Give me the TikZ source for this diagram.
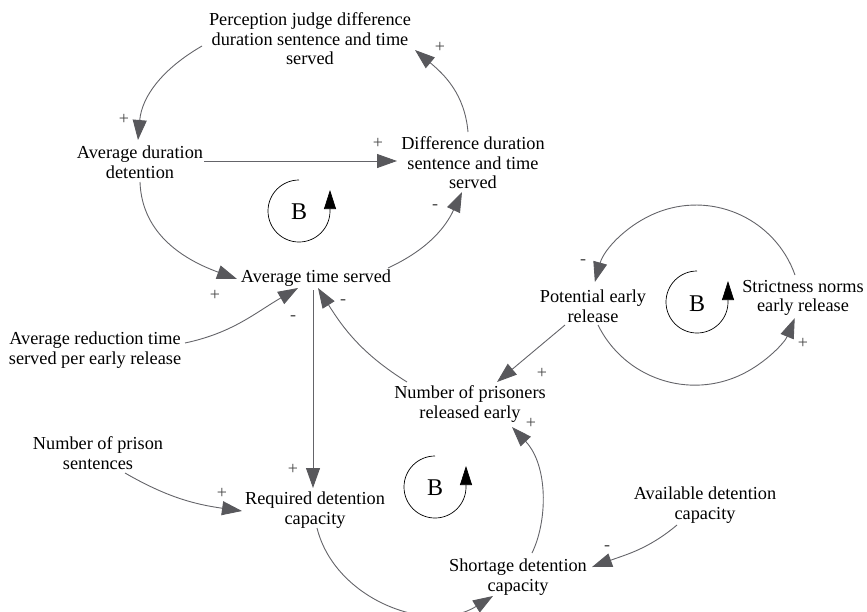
\documentclass[tikz,border=0pt]{standalone}
\usepackage{fontspec}
\setmainfont{Liberation Serif}
\usetikzlibrary{arrows.meta,calc}
\definecolor{conncol}{RGB}{100,100,105}
\definecolor{tipcol}{RGB}{88,88,92}
\definecolor{labcol}{RGB}{70,70,70}
\tikzset{
  var/.style={align=center,inner sep=0pt,font=\fontsize{18.3}{19.5}\selectfont,text=black},
  sign/.style={inner sep=0pt,font=\fontsize{18}{18}\selectfont,text=labcol},
  conn/.style={draw=conncol,line width=0.9pt,-{Triangle[length=20pt,width=14pt,color=tipcol,fill=tipcol]}},
  loopar/.style={draw=black,line width=0.7pt,-{Triangle[length=19pt,width=12pt,fill=black]}},
  loopname/.style={inner sep=0pt,font=\fontsize{24}{24}\selectfont}
}
\begin{document}
\begin{tikzpicture}[x=1pt,y=1pt]
\useasboundingbox (0,0) rectangle (867,-611);
% variables
\node[var] (P) at (310,-39) {Perception judge difference\\duration sentence and time\\served};
\node[var] (ADD) at (140,-162) {Average duration\\detention};
\node[var] (DD) at (473,-163) {Difference duration\\sentence and time\\served};
\node[var] (ATS) at (316,-278) {Average time served};
\node[var] (AR) at (95,-350) {Average reduction time\\served per early release};
\node[var] (NPR) at (470,-404) {Number of prisoners\\released early};
\node[var] (PER) at (593,-306) {Potential early\\release};
\node[var] (SNE) at (803,-298) {Strictness norms\\early release};
\node[var] (NPS) at (98,-453) {Number of prison\\sentences};
\node[var] (RDC) at (315,-510) {Required detention\\capacity};
\node[var] (ADC) at (705,-505) {Available detention\\capacity};
\node[var] (SDC) at (518,-577) {Shortage detention\\capacity};
% loop markers
\node[loopname] (L1) at (299,-212) {B};
\node[loopname] (L2) at (697,-304) {B};
\node[loopname] (L3) at (435,-488) {B};
\draw[loopar] ($(L1)+(0,32)$) arc[start angle=90,end angle=360,radius=31] -- ++(0,21);
\draw[loopar] ($(L2)+(0,33)$) arc[start angle=90,end angle=360,radius=31] -- ++(0,21);
\draw[loopar] ($(L3)+(0,32)$) arc[start angle=90,end angle=360,radius=31] -- ++(0,21);
% connectors
\draw[conn] ($(DD)+(-5,31)$) to[out=95,in=-40] ($(P)+(105,-11)$);
\draw[conn] ($(P)+(-108,-7)$) to[out=210,in=85] ($(ADD)+(-2,22)$);
\draw[conn] ($(ADD)+(64,1)$) -- ($(DD)+(-76,2)$);
\draw[conn] ($(ADD)+(0,-20)$) to[out=-88,in=160] ($(ATS)+(-79,-1)$);
\draw[conn] ($(ATS)+(72,10)$) to[out=25,in=-115] ($(DD)+(-11,-29)$);
\draw[conn] ($(AR)+(90,7)$) to[out=12,in=-150] ($(ATS)+(-18,-10)$);
\draw[conn] ($(ATS)+(-3,-12)$) -- ($(RDC)+(-2,22)$);
\draw[conn] ($(NPR)+(-63,22)$) to[out=148,in=-58] ($(ATS)+(2,-10)$);
\draw[conn] ($(NPS)+(27,-20)$) to[out=-30,in=172] ($(RDC)+(-73,-1)$);
\draw[conn] ($(RDC)+(2,-18)$) .. controls +(18,-72) and +(-63,-39) .. ($(SDC)+(-25,-19)$);
\draw[conn] ($(SDC)+(14,24)$) .. controls +(16,33) and +(36,-38) .. ($(NPR)+(42,-23)$);
\draw[conn] ($(ADC)+(-28,-20)$) to[out=220,in=20] ($(SDC)+(74,10)$);
\draw[conn] ($(PER)+(-28,-19)$) -- ($(NPR)+(27,22)$);
\draw[conn] ($(SNE)+(-8,23)$) arc[start angle=19.5,end angle=164.5,radius=105];
\draw[conn] ($(PER)+(5,-19)$) arc[start angle=206.3,end angle=337.7,radius=108];
% polarity signs
\node[sign] (s1) at (440,-47) {+};
\node[sign] (s2) at (124,-119) {+};
\node[sign] (s3) at (378,-143) {+};
\node[sign] (s4) at (435,-207) {-};
\node[sign] (s5) at (215,-295) {+};
\node[sign] (s6) at (293,-318) {-};
\node[sign] (s7) at (343,-302) {-};
\node[sign] (s8) at (583,-262) {-};
\node[sign] (s9) at (803,-343) {+};
\node[sign] (s10) at (542,-373) {+};
\node[sign] (s11) at (293,-469) {+};
\node[sign] (s12) at (222,-493) {+};
\node[sign] (s13) at (531,-423) {+};
\node[sign] (s14) at (607,-548) {-};
\end{tikzpicture}
\end{document}
